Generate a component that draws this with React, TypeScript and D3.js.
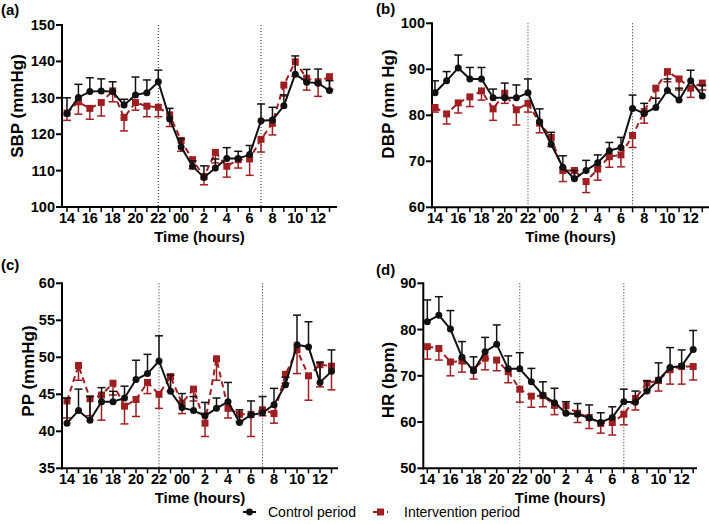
import React from 'react';
import * as d3 from 'd3';

// ---------- data ----------
const hours = [14, 15, 16, 17, 18, 19, 20, 21, 22, 23, 0, 1, 2, 3, 4, 5, 6, 7, 8, 9, 10, 11, 12, 13];
const tickHours = [14, 16, 18, 20, 22, 0, 2, 4, 6, 8, 10, 12];
const nightStart = 22;
const nightEnd = 7;

const sbpControl = [125.7, 130.1, 131.7, 131.9, 131.7, 128.0, 130.8, 131.4, 134.4, 124.2, 116.5, 111.2, 108.1, 110.7, 113.3, 113.3, 114.4, 123.7, 123.9, 127.8, 136.5, 134.3, 134.0, 132.0];
const sbpControlErr = [4.3, 3.6, 3.8, 3.3, 2.7, 1.6, 4.9, 3.5, 3.2, 2.9, 2.2, 1.5, 3.2, 2.5, 3.0, 2.0, 2.5, 4.6, 3.5, 3.0, 5.0, 3.5, 3.9, 2.7];
const sbpInterv = [125.8, 128.9, 127.1, 128.7, 131.9, 124.6, 128.7, 127.7, 127.4, 125.3, 118.3, 113.0, 108.4, 115.0, 111.2, 113.0, 113.2, 118.6, 123.0, 133.5, 139.9, 135.4, 134.4, 135.8];
const sbpIntervErr = [2.0, 3.4, 3.0, 3.7, 3.0, 3.7, 2.1, 2.9, 2.6, 3.2, 3.0, 2.5, 2.3, 2.9, 3.0, 2.3, 4.5, 3.5, 3.2, 3.0, 4.0, 3.3, 4.0, 3.5];

const dbpControl = [84.9, 87.5, 90.3, 87.9, 87.9, 83.8, 83.8, 83.8, 84.9, 78.6, 73.7, 68.7, 66.2, 68.0, 69.7, 72.3, 73.0, 81.5, 80.4, 81.7, 85.4, 83.3, 87.5, 84.2];
const dbpControlErr = [2.6, 2.0, 2.8, 2.5, 2.5, 1.9, 3.2, 2.8, 3.0, 2.8, 2.6, 2.5, 1.8, 2.2, 1.7, 1.8, 2.2, 2.9, 2.2, 2.0, 2.5, 2.6, 2.3, 2.3];
const dbpInterv = [81.7, 80.3, 82.7, 84.0, 85.3, 81.4, 84.8, 81.2, 82.6, 78.3, 75.2, 68.0, 68.0, 65.6, 68.3, 71.0, 71.4, 75.6, 80.8, 85.9, 89.5, 87.9, 85.9, 87.0];
const dbpIntervErr = [1.0, 2.2, 2.2, 2.1, 2.0, 2.5, 2.2, 3.3, 1.9, 2.1, 2.0, 2.4, 1.5, 2.4, 2.4, 2.3, 2.6, 2.6, 2.5, 2.2, 2.2, 2.4, 2.0, 1.5];

const ppControl = [41.1, 42.8, 41.5, 44.0, 44.0, 44.5, 47.0, 47.8, 49.5, 45.4, 43.2, 42.8, 42.1, 43.1, 44.0, 41.2, 42.2, 42.5, 43.6, 46.3, 51.7, 51.4, 46.6, 48.1];
const ppControlErr = [3.4, 2.9, 3.2, 1.9, 1.4, 1.6, 2.6, 2.6, 3.4, 2.2, 1.9, 1.9, 1.8, 1.4, 2.6, 1.7, 1.9, 2.2, 2.2, 1.0, 4.0, 3.4, 2.7, 2.9];
const ppInterv = [44.1, 48.9, 44.4, 44.9, 46.5, 43.4, 44.3, 46.6, 45.0, 47.4, 43.8, 45.7, 41.1, 49.8, 43.1, 42.3, 42.3, 42.9, 42.4, 47.7, 51.0, 47.5, 49.0, 48.8];
const ppIntervErr = [2.3, 2.0, 2.3, 3.4, 1.6, 2.4, 2.3, 1.5, 1.9, 2.0, 1.4, 1.6, 1.8, 2.9, 1.3, 1.0, 3.0, 0.8, 1.3, 1.2, 3.2, 3.3, 3.0, 3.2];

const hrControl = [81.7, 83.1, 80.1, 74.0, 71.1, 75.2, 76.8, 71.5, 71.5, 68.7, 65.8, 64.2, 61.9, 61.7, 60.9, 59.9, 61.0, 64.4, 64.3, 66.7, 69.1, 71.8, 72.1, 75.7];
const hrControlErr = [4.7, 4.0, 4.0, 3.4, 3.0, 3.1, 4.2, 2.8, 3.5, 2.9, 2.9, 3.1, 2.5, 2.3, 2.8, 2.1, 2.3, 2.7, 2.4, 2.2, 3.7, 4.3, 3.5, 4.1];
const hrInterv = [76.3, 75.9, 73.0, 73.2, 71.3, 73.8, 73.4, 70.9, 67.1, 65.6, 65.7, 63.6, 63.5, 61.9, 61.0, 59.7, 59.9, 61.7, 65.1, 68.4, 69.0, 71.3, 72.0, 72.0];
const hrIntervErr = [2.7, 2.5, 3.0, 2.4, 2.0, 2.5, 2.3, 2.4, 2.8, 2.4, 2.4, 2.0, 1.5, 2.0, 2.4, 2.1, 2.7, 2.3, 2.5, 1.5, 2.3, 3.1, 3.8, 2.9];

const seriesNames = ['Control period', 'Intervention period'];

// ---------- styling ----------
const FONT = '"Liberation Sans", Arial, Helvetica, sans-serif';
const BLACK = '#111111';
const RED = '#9e1f22';

const panels = [
  {
    letter: '(a)', title: 'SBP (mmHg)', ctrl: sbpControl, ctrlErr: sbpControlErr, intv: sbpInterv, intvErr: sbpIntervErr,
    yDomain: [100, 150], yStep: 10,
    L: { axisX: 62, top: 25, bottom: 207, x0: 67, x23: 329.5, xEnd: 337, titleX: 17, titleY: 106, letterX: 1, letterY: 15 },
  },
  {
    letter: '(b)', title: 'DBP (mm Hg)', ctrl: dbpControl, ctrlErr: dbpControlErr, intv: dbpInterv, intvErr: dbpIntervErr,
    yDomain: [60, 100], yStep: 10,
    L: { axisX: 432, top: 23.3, bottom: 207.3, x0: 435, x23: 702.3, xEnd: 709, titleX: 388, titleY: 104, letterX: 376, letterY: 14 },
  },
  {
    letter: '(c)', title: 'PP (mmHg)', ctrl: ppControl, ctrlErr: ppControlErr, intv: ppInterv, intvErr: ppIntervErr,
    yDomain: [35, 60], yStep: 5,
    L: { axisX: 62, top: 283.3, bottom: 468.3, x0: 67, x23: 331.5, xEnd: 338, titleX: 28, titleY: 371, letterX: 1, letterY: 270 },
  },
  {
    letter: '(d)', title: 'HR (bpm)', ctrl: hrControl, ctrlErr: hrControlErr, intv: hrInterv, intvErr: hrIntervErr,
    yDomain: [50, 90], yStep: 10,
    L: { axisX: 423.3, top: 283.3, bottom: 468.3, x0: 427.3, x23: 693.2, xEnd: 697, titleX: 388, titleY: 380, letterX: 376, letterY: 275 },
  },
];

function Panel({ p }: { p: any }) {
  const L = p.L;
  const x = d3.scaleLinear().domain([0, hours.length - 1]).range([L.x0, L.x23]);
  const y = d3.scaleLinear().domain(p.yDomain).range([L.bottom, L.top]);
  const yTicks = d3.range(p.yDomain[0], p.yDomain[1] + 0.001, p.yStep);
  const line = d3.line<number>().x((_, i) => x(i)).y((d) => y(d));
  const cap = 4;
  return (
    <g>
      <text x={L.letterX} y={L.letterY} fontFamily={FONT} fontWeight="bold" fontSize={15} fill="#000">{p.letter}</text>
      {[nightStart, nightEnd].map((h) => (
        <line key={h} x1={x(hours.indexOf(h))} x2={x(hours.indexOf(h))} y1={L.top} y2={L.bottom}
          stroke="#222" strokeWidth={1} strokeDasharray="1,2" />
      ))}
      <line x1={L.axisX} x2={L.axisX} y1={L.top - 1} y2={L.bottom + 1} stroke="#000" strokeWidth={2} />
      <line x1={L.axisX - 1} x2={L.xEnd} y1={L.bottom} y2={L.bottom} stroke="#000" strokeWidth={2} />
      {yTicks.map((t) => (
        <g key={t}>
          <line x1={L.axisX - 6} x2={L.axisX} y1={y(t)} y2={y(t)} stroke="#000" strokeWidth={2} />
          <text x={L.axisX - 7} y={y(t) + 5} textAnchor="end" fontFamily={FONT} fontWeight="bold" fontSize={14.5}>{t}</text>
        </g>
      ))}
      {hours.map((h, i) => (
        <line key={i} x1={x(i)} x2={x(i)} y1={L.bottom} y2={L.bottom + 5} stroke="#000" strokeWidth={1.5} />
      ))}
      {tickHours.map((h) => (
        <text key={h} x={x(hours.indexOf(h))} y={L.bottom + 16} textAnchor="middle" fontFamily={FONT} fontWeight="bold" fontSize={14.5}>
          {h === 0 ? '00' : String(h)}
        </text>
      ))}
      <text x={(L.axisX + L.xEnd) / 2} y={L.bottom + 35} textAnchor="middle" fontFamily={FONT} fontWeight="bold" fontSize={15}>Time (hours)</text>
      <text transform={`translate(${L.titleX},${L.titleY}) rotate(-90)`} textAnchor="middle" dominantBaseline="central"
        fontFamily={FONT} fontWeight="bold" fontSize={17}>{p.title}</text>

      <path d={line(p.intv) || ''} fill="none" stroke={RED} strokeWidth={2} strokeDasharray="6,4" />
      {p.intv.map((v: number, i: number) => {
        const yb = y(v - p.intvErr[i]);
        return (
          <g key={i}>
            <line x1={x(i)} x2={x(i)} y1={y(v)} y2={yb} stroke={RED} strokeWidth={1.5} />
            <line x1={x(i) - cap} x2={x(i) + cap} y1={yb} y2={yb} stroke={RED} strokeWidth={1.5} />
            <rect x={x(i) - 3.5} y={y(v) - 3.5} width={7} height={7} fill={RED} />
          </g>
        );
      })}
      <path d={line(p.ctrl) || ''} fill="none" stroke={BLACK} strokeWidth={2} />
      {p.ctrl.map((v: number, i: number) => {
        const yt = y(v + p.ctrlErr[i]);
        return (
          <g key={i}>
            <line x1={x(i)} x2={x(i)} y1={y(v)} y2={yt} stroke={BLACK} strokeWidth={1.5} />
            <line x1={x(i) - cap} x2={x(i) + cap} y1={yt} y2={yt} stroke={BLACK} strokeWidth={1.5} />
            <circle cx={x(i)} cy={y(v)} r={3.5} fill={BLACK} />
          </g>
        );
      })}
    </g>
  );
}

export default function App() {
  const ly = 512;
  return (
    <svg width={709} height={524} style={{ position: 'absolute', left: 0, top: 0, background: '#fff' }}>
      <rect width={709} height={524} fill="#fff" />
      {panels.map((p) => <Panel key={p.letter} p={p} />)}
      <g>
        <line x1={243} x2={256} y1={ly} y2={ly} stroke={BLACK} strokeWidth={2} />
        <circle cx={249.5} cy={ly} r={3.4} fill={BLACK} />
        <text x={268} y={ly + 5} fontFamily={FONT} fontSize={14}>{seriesNames[0]}</text>
        <line x1={373} x2={388} y1={ly} y2={ly} stroke={RED} strokeWidth={2} strokeDasharray="4,3" />
        <rect x={377} y={ly - 3.5} width={7} height={7} fill={RED} />
        <text x={404} y={ly + 5} fontFamily={FONT} fontSize={14}>{seriesNames[1]}</text>
      </g>
    </svg>
  );
}
